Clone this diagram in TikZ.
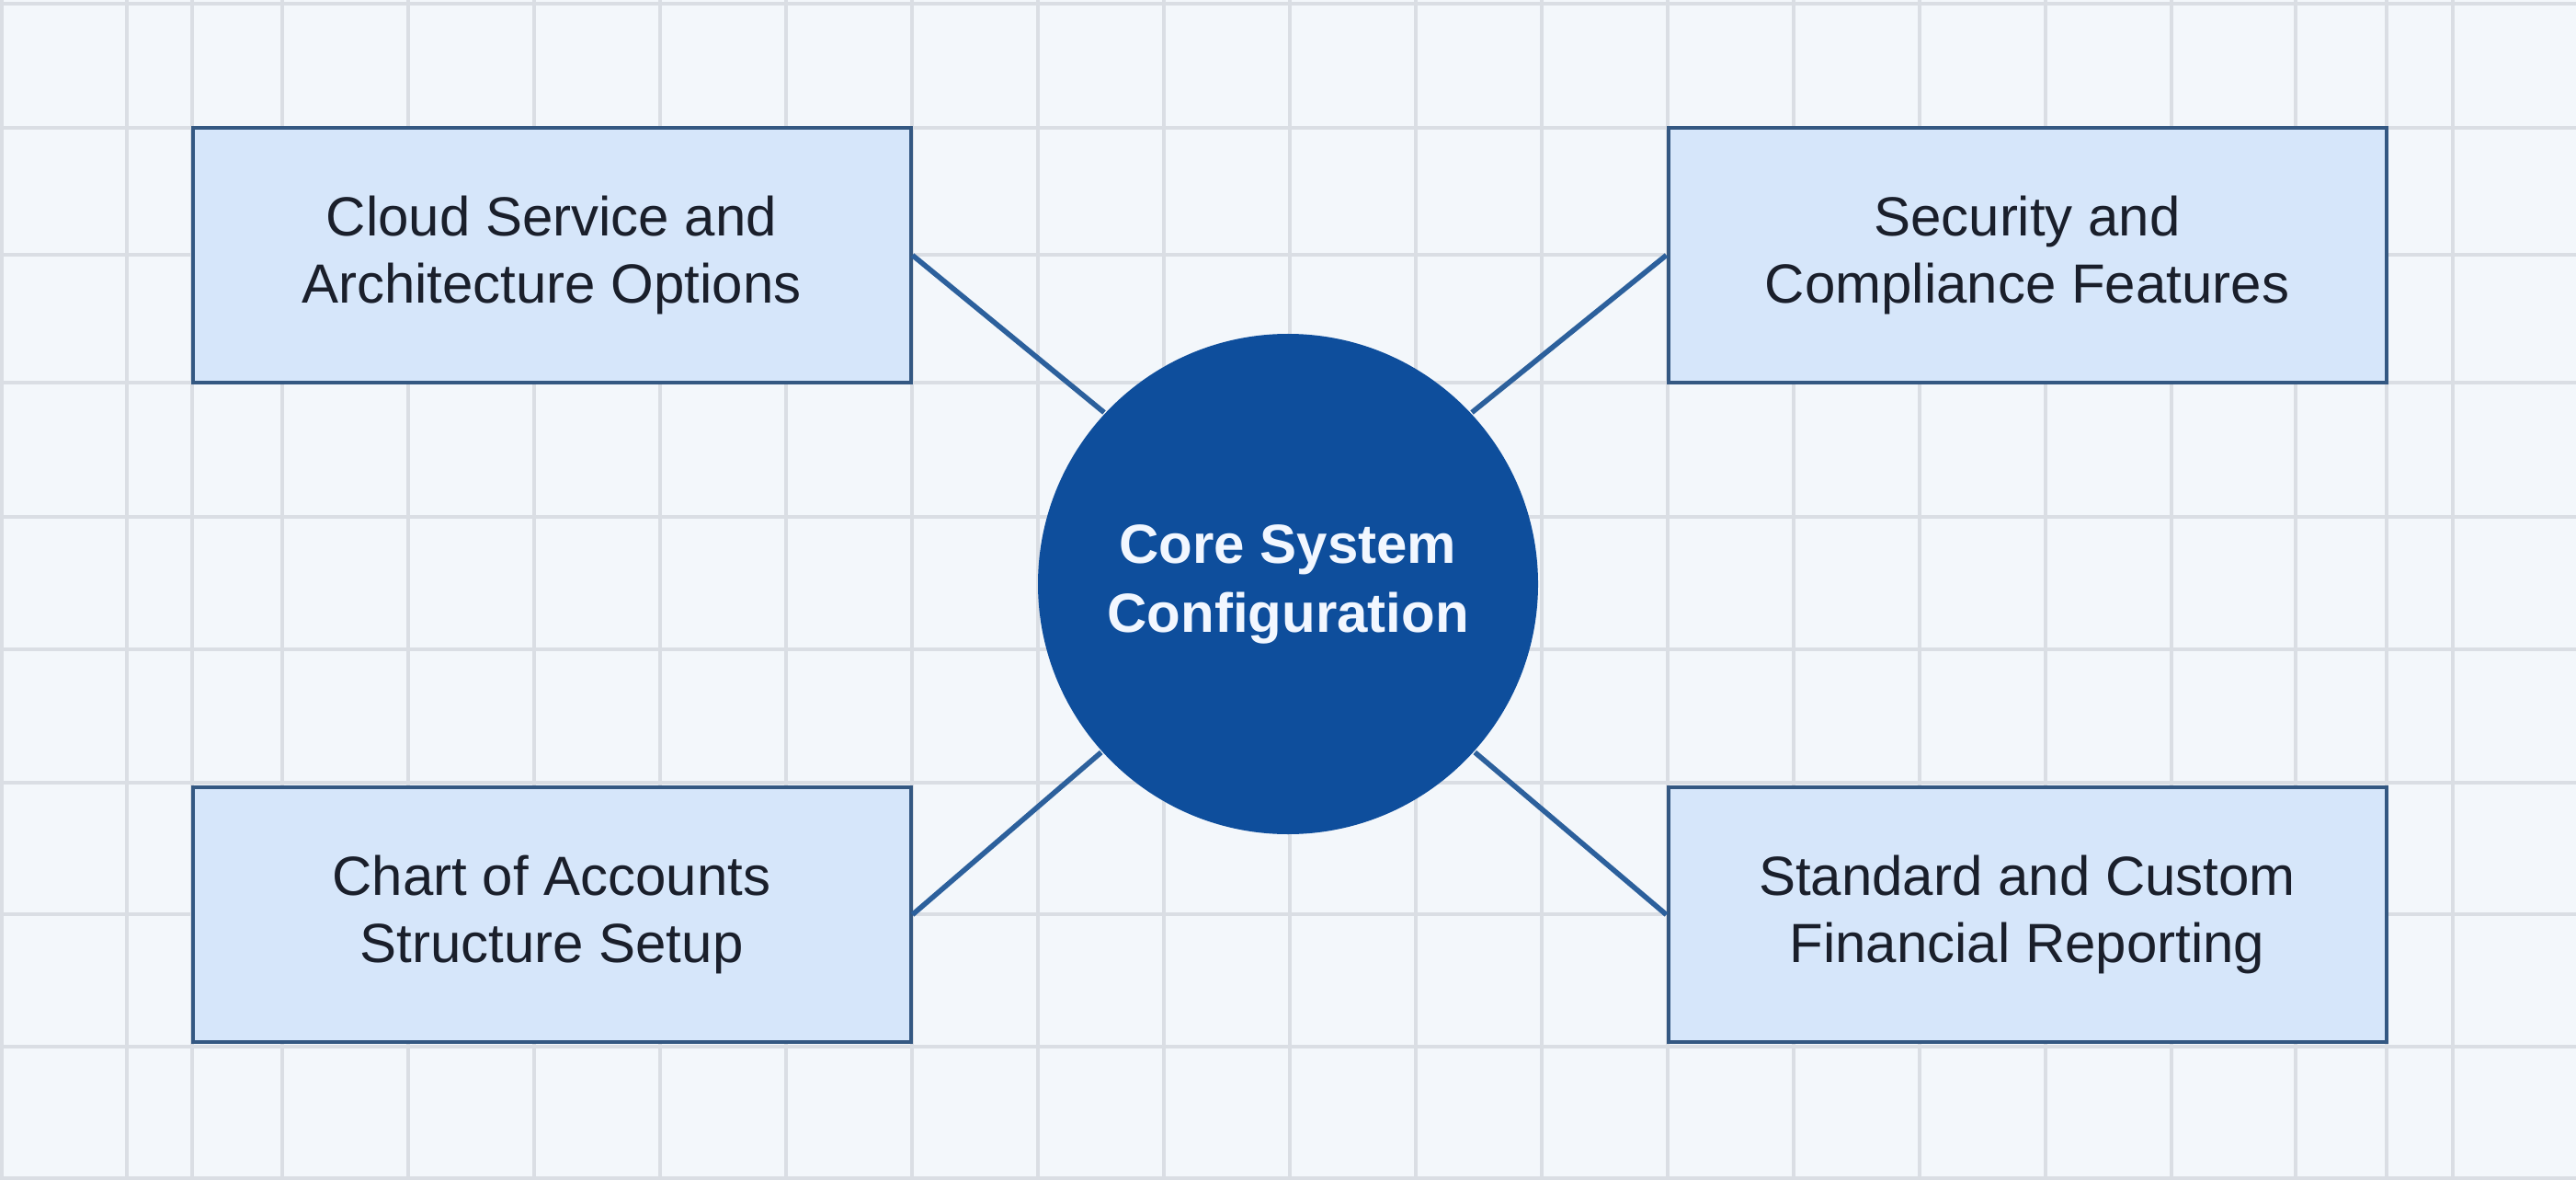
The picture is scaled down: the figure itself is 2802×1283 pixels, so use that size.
\documentclass[tikz,border=0pt]{standalone}
\usepackage{fontspec}
\setmainfont{Liberation Sans}

\tikzset{every picture/.style={line width=0.75pt}}
\tikzset{
  gridline/.style={color={rgb, 255:red, 218; green, 222; blue, 228 }, line width=0.8pt},
  topicbox/.style={draw={rgb, 255:red, 52; green, 88; blue, 130 }, line width=1pt,
    fill={rgb, 255:red, 214; green, 230; blue, 250 }, rectangle, minimum width=195.25pt,
    minimum height=69.25pt, inner sep=0pt, align=center,
    text={rgb, 255:red, 26; green, 31; blue, 43 }, font=\fontsize{15}{18.25}\selectfont},
  hubcircle/.style={circle, fill={rgb, 255:red, 14; green, 78; blue, 156 }, draw=none,
    minimum size=136pt, inner sep=0pt, align=center,
    text={rgb, 255:red, 242; green, 247; blue, 255 }, font=\fontsize{15}{18.75}\selectfont\bfseries},
  spoke/.style={color={rgb, 255:red, 44; green, 96; blue, 156 }, line width=1.4pt}
}

\begin{document}
\begin{tikzpicture}[x=0.25pt,y=0.25pt,yscale=-1,xscale=1]
	\useasboundingbox (0,0) rectangle (2802,1283);

	%Shape: Rectangle [background]
	\draw  [draw opacity=0][fill={rgb, 255:red, 243; green, 247; blue, 251 }  ,fill opacity=1 ] (0,0) -- (2802,0) -- (2802,1283) -- (0,1283) -- cycle ;
	%Straight Lines [vertical grid]
	\draw  [gridline] (2,0) -- (2,1283) (138,0) -- (138,1283) (209,0) -- (209,1283) (307,0) -- (307,1283) (444,0) -- (444,1283) (581,0) -- (581,1283) (718,0) -- (718,1283) (855,0) -- (855,1283) (992,0) -- (992,1283) (1129,0) -- (1129,1283) (1266,0) -- (1266,1283) (1403,0) -- (1403,1283) (1540,0) -- (1540,1283) (1677,0) -- (1677,1283) (1814,0) -- (1814,1283) (1951,0) -- (1951,1283) (2088,0) -- (2088,1283) (2225,0) -- (2225,1283) (2362,0) -- (2362,1283) (2497,0) -- (2497,1283) (2596,0) -- (2596,1283) (2668,0) -- (2668,1283) ;
	%Straight Lines [horizontal grid]
	\draw  [gridline] (0,4) -- (2802,4) (0,139) -- (2802,139) (0,277) -- (2802,277) (0,416) -- (2802,416) (0,562) -- (2802,562) (0,706) -- (2802,706) (0,851) -- (2802,851) (0,994) -- (2802,994) (0,1138) -- (2802,1138) (0,1281) -- (2802,1281) ;

	%Shape: Circle [core]
	\node [hubcircle] (core) at (1401,635) {Core System\\Configuration};
	%Shape: Rectangle [four topics]
	\node [topicbox] (cloud) at (600,277.5) {Cloud Service and\\Architecture Options};
	\node [topicbox] (security) at (2205,277.5) {Security and\\Compliance Features};
	\node [topicbox] (chart) at (600,994.5) {Chart of Accounts\\Structure Setup};
	\node [topicbox] (reporting) at (2205,994.5) {Standard and Custom\\Financial Reporting};

	%Straight Lines [spokes]
	\draw  [spoke] (cloud.east) -- (core.137) ;
	\draw  [spoke] (security.west) -- (core.43) ;
	\draw  [spoke] (chart.east) -- (core.222) ;
	\draw  [spoke] (reporting.west) -- (core.318) ;

\end{tikzpicture}
\end{document}
